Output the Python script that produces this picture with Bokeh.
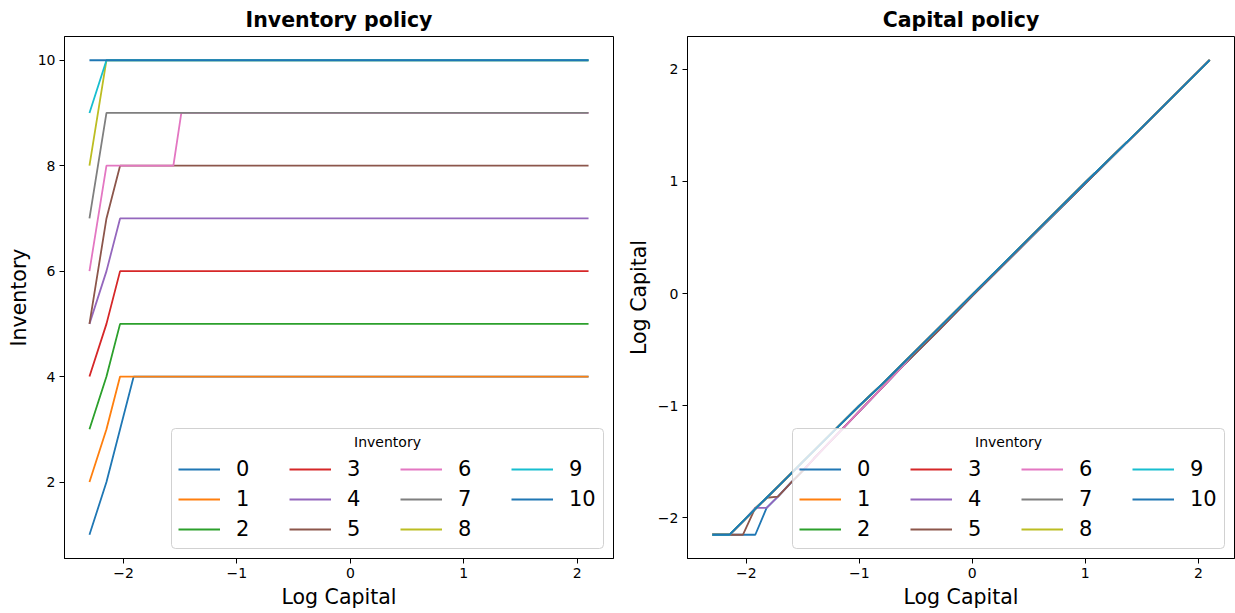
from bokeh.plotting import figure
from bokeh.layouts import row
from bokeh.models import (Legend, LegendItem, BoxAnnotation, Label, Range1d,
                          FixedTicker, CustomJSTickFormatter)
from bokeh.embed import file_html
from bokeh.resources import INLINE

# ---------------------------------------------------------------------------
# Inventory policy: chosen inventory at each log-capital breakpoint
# ---------------------------------------------------------------------------
inv_logk = [-2.30, -2.15, -2.03, -1.91, -1.56, -1.49, 2.10]
inv_0 = [1, 2, 3, 4, 4, 4, 4]
inv_1 = [2, 3, 4, 4, 4, 4, 4]
inv_2 = [3, 4, 5, 5, 5, 5, 5]
inv_3 = [4, 5, 6, 6, 6, 6, 6]
inv_4 = [5, 6, 7, 7, 7, 7, 7]
inv_5 = [5, 7, 8, 8, 8, 8, 8]
inv_6 = [6, 8, 8, 8, 8, 9, 9]
inv_7 = [7, 9, 9, 9, 9, 9, 9]
inv_8 = [8, 10, 10, 10, 10, 10, 10]
inv_9 = [9, 10, 10, 10, 10, 10, 10]
inv_10 = [10, 10, 10, 10, 10, 10, 10]

# ---------------------------------------------------------------------------
# Capital policy: chosen log capital at each log-capital breakpoint
# ---------------------------------------------------------------------------
cap_logk = [-2.30, -2.15, -2.03, -1.92, -1.82, -1.72, -1.60, -1.56, -1.49,
            -1.40, -1.20, -1.00, -0.80, -0.60, -0.53, -0.30, 0.00, 0.50,
            1.00, 1.50, 2.10]
cap_0 = [-2.15, -2.15, -2.15, -2.15, -1.91, -1.81, -1.68, -1.64, -1.57,
         -1.47, -1.26, -1.05, -0.84, -0.63, -0.56, -0.33, -0.02, 0.48,
         0.98, 1.48, 2.08]
cap_1 = [-2.15, -2.15, -2.03, -1.92, -1.82, -1.72, -1.60, -1.56, -1.49,
         -1.40, -1.20, -1.00, -0.81, -0.61, -0.54, -0.31, -0.01, 0.49,
         0.99, 1.48, 2.08]
cap_2 = [-2.15, -2.15, -2.03, -1.92, -1.82, -1.72, -1.60, -1.56, -1.49,
         -1.40, -1.20, -1.00, -0.81, -0.61, -0.54, -0.31, -0.01, 0.49,
         0.99, 1.48, 2.08]
cap_3 = [-2.15, -2.15, -2.03, -1.92, -1.82, -1.72, -1.60, -1.56, -1.49,
         -1.40, -1.20, -1.00, -0.81, -0.61, -0.54, -0.31, -0.01, 0.49,
         0.99, 1.48, 2.08]
cap_4 = [-2.15, -2.15, -2.03, -1.91, -1.91, -1.81, -1.68, -1.64, -1.57,
         -1.47, -1.26, -1.05, -0.84, -0.63, -0.56, -0.33, -0.02, 0.48,
         0.98, 1.48, 2.08]
cap_5 = [-2.15, -2.15, -2.15, -1.91, -1.82, -1.81, -1.68, -1.64, -1.57,
         -1.47, -1.26, -1.05, -0.84, -0.63, -0.56, -0.33, -0.02, 0.48,
         0.98, 1.48, 2.08]
cap_6 = [-2.15, -2.15, -2.03, -1.92, -1.82, -1.72, -1.60, -1.56, -1.57,
         -1.47, -1.26, -1.05, -0.84, -0.63, -0.54, -0.31, -0.01, 0.49,
         0.99, 1.48, 2.08]
cap_7 = [-2.15, -2.15, -2.03, -1.92, -1.82, -1.72, -1.60, -1.56, -1.49,
         -1.40, -1.20, -1.00, -0.81, -0.61, -0.54, -0.31, -0.01, 0.49,
         0.99, 1.48, 2.08]
cap_8 = [-2.15, -2.15, -2.03, -1.92, -1.82, -1.72, -1.60, -1.56, -1.49,
         -1.40, -1.20, -1.00, -0.81, -0.61, -0.54, -0.31, -0.01, 0.49,
         0.99, 1.48, 2.08]
cap_9 = [-2.15, -2.15, -2.03, -1.92, -1.82, -1.72, -1.60, -1.56, -1.49,
         -1.40, -1.20, -1.00, -0.81, -0.61, -0.54, -0.31, -0.01, 0.49,
         0.99, 1.48, 2.08]
cap_10 = [-2.15, -2.15, -2.03, -1.92, -1.82, -1.72, -1.60, -1.56, -1.49,
          -1.40, -1.20, -1.00, -0.81, -0.61, -0.54, -0.31, -0.01, 0.49,
          0.99, 1.48, 2.08]

inventory_labels = ["0", "1", "2", "3", "4", "5", "6", "7", "8", "9", "10"]
x_ticks = [-2, -1, 0, 1, 2]
inv_ticks = [2, 4, 6, 8, 10]
cap_ticks = [-2, -1, 0, 1, 2]

inv_series = [inv_0, inv_1, inv_2, inv_3, inv_4, inv_5, inv_6, inv_7,
              inv_8, inv_9, inv_10]
cap_series = [cap_0, cap_1, cap_2, cap_3, cap_4, cap_5, cap_6, cap_7,
              cap_8, cap_9, cap_10]

PALETTE = ["#1f77b4", "#ff7f0e", "#2ca02c", "#d62728", "#9467bd",
           "#8c564b", "#e377c2", "#7f7f7f", "#bcbd22", "#17becf",
           "#1f77b4"]
FONT = "DejaVu Sans"
HEIGHT = 613
BORDER_TOP = 35
BORDER_BOTTOM = 55

MINUS = CustomJSTickFormatter(code="return String(tick).replace('-', '\u2212');")


def padded(values, frac=0.05):
    lo, hi = min(values), max(values)
    span = hi - lo
    return Range1d(lo - frac * span, hi + frac * span)


def make_panel(title, xs, ys_list, ylabel, yticks, width, b_left, b_right):
    frame_w = width - b_left - b_right
    all_y = [v for ys in ys_list for v in ys]
    p = figure(width=width, height=HEIGHT, output_backend="svg",
               toolbar_location=None, title=title,
               x_range=padded(xs), y_range=padded(all_y),
               min_border_left=b_left, min_border_right=b_right,
               min_border_top=BORDER_TOP, min_border_bottom=BORDER_BOTTOM)
    p.title.align = "center"
    p.title.text_font = FONT
    p.title.text_font_size = "20.5px"
    p.title.text_font_style = "bold"
    p.title.text_color = "black"
    p.grid.visible = False
    p.outline_line_color = "black"
    p.outline_line_alpha = 1.0
    p.outline_line_width = 1
    p.background_fill_color = "white"
    p.border_fill_color = "white"

    for ax, ticks, lab in ((p.xaxis[0], x_ticks, "Log Capital"),
                           (p.yaxis[0], yticks, ylabel)):
        ax.ticker = FixedTicker(ticks=ticks)
        ax.formatter = MINUS
        ax.axis_label = lab
        ax.axis_line_color = "black"
        ax.major_tick_line_color = "black"
        ax.major_tick_out = 5
        ax.major_tick_in = 0
        ax.minor_tick_out = 0
        ax.minor_tick_in = 0
        ax.major_label_text_font = FONT
        ax.major_label_text_font_size = "14px"
        ax.major_label_text_color = "black"
        ax.major_label_standoff = 4
        ax.axis_label_text_font = FONT
        ax.axis_label_text_font_size = "20.5px"
        ax.axis_label_text_font_style = "normal"
        ax.axis_label_text_color = "black"
        ax.axis_label_standoff = 4

    renderers = []
    for ys, color in zip(ys_list, PALETTE):
        r = p.line(xs, ys, line_color=color, line_width=1.8)
        renderers.append(r)

    # legend frame (bottom-right), title and entries laid out in 4 columns
    box_w, box_h = 432, 120
    box_right = frame_w - 10
    box_left = box_right - box_w
    box_bottom = 10
    p.add_layout(BoxAnnotation(left=box_left, right=box_right,
                               bottom=box_bottom, top=box_bottom + box_h,
                               left_units="screen", right_units="screen",
                               bottom_units="screen", top_units="screen",
                               fill_color="white", fill_alpha=0.8,
                               line_color="#cccccc", line_alpha=0.9,
                               line_width=1, border_radius=4))
    p.add_layout(Label(x=(box_left + box_right) / 2, y=box_bottom + box_h - 13,
                       x_units="screen", y_units="screen", text="Inventory",
                       text_align="center", text_baseline="middle",
                       text_font=FONT, text_font_size="14px",
                       text_color="black"))
    legend = Legend(
        items=[LegendItem(label=lab, renderers=[r])
               for lab, r in zip(inventory_labels, renderers)],
        location=(box_left + 7, box_bottom + 4),
        orientation="vertical", nrows=3,
        glyph_width=42, glyph_height=30, label_height=30, label_width=53,
        label_standoff=16, spacing=0, padding=0, margin=0,
        border_line_alpha=0, background_fill_alpha=0,
        label_text_font=FONT, label_text_font_size="21px",
        label_text_color="black")
    p.add_layout(legend)
    return p


left = make_panel("Inventory policy", inv_logk, inv_series, "Inventory",
                  inv_ticks, width=620, b_left=64, b_right=7)
right = make_panel("Capital policy", cap_logk, cap_series, "Log Capital",
                   cap_ticks, width=615, b_left=67, b_right=1)

layout = row(left, right)
open("out.html", "w").write(file_html(layout, INLINE))
